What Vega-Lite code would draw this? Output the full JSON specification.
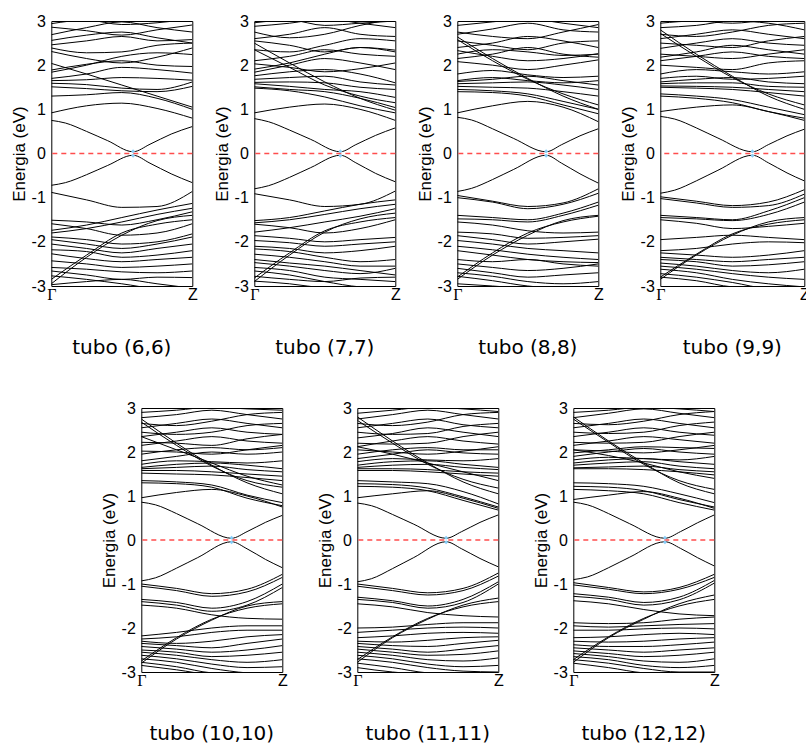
{
  "$schema": "https://vega.github.io/schema/vega-lite/v6.json",
  "background": "white",
  "padding": {"left": 9, "top": 12, "right": 0, "bottom": 0},
  "config": {
    "view": {"stroke": "#000", "strokeWidth": 1},
    "axisX": {"grid": false, "ticks": false, "domain": false, "labelFlush": false, "labelFontSize": 16, "labelColor": "#000", "labelPadding": 0, "labelBaseline": "top", "labelOffset": 0},
    "axisY": {"grid": false, "ticks": false, "domain": false, "labelFlush": false, "labelFont": "Liberation Sans", "labelFontSize": 16, "labelColor": "#000", "labelPadding": 6, "titleFont": "Liberation Sans", "titleFontSize": 17, "titleFontWeight": "normal", "titleColor": "#000", "titlePadding": 3},
    "title": {"orient": "bottom", "frame": "group", "offset": 36, "font": "DejaVu Sans", "fontSize": 20, "fontWeight": "normal", "color": "#000", "baseline": "top", "anchor": "middle"}
  },
  "datasets": {
    "t6": [
      {"b":1,"k":0,"e":0.75},{"b":1,"k":0.1,"e":0.69},{"b":1,"k":0.25,"e":0.5},{"b":1,"k":0.4,"e":0.29},{"b":1,"k":0.58,"e":0.04},{"b":1,"k":0.7,"e":0.21},{"b":1,"k":0.85,"e":0.44},{"b":1,"k":1,"e":0.61},
      {"b":2,"k":0,"e":-0.72},{"b":2,"k":0.1,"e":-0.66},{"b":2,"k":0.25,"e":-0.48},{"b":2,"k":0.4,"e":-0.27},{"b":2,"k":0.58,"e":-0.04},{"b":2,"k":0.7,"e":-0.22},{"b":2,"k":0.85,"e":-0.46},{"b":2,"k":1,"e":-0.66},
      {"b":3,"k":0,"e":0.92},{"b":3,"k":0.25,"e":1.08},{"b":3,"k":0.5,"e":1.14},{"b":3,"k":0.75,"e":1.02},{"b":3,"k":1,"e":0.8},
      {"b":4,"k":0,"e":1.3},{"b":4,"k":0.25,"e":1.33},{"b":4,"k":0.5,"e":1.38},{"b":4,"k":0.75,"e":1.25},{"b":4,"k":1,"e":1.0},
      {"b":5,"k":0,"e":2.04},{"b":5,"k":0.25,"e":1.8},{"b":5,"k":0.5,"e":1.55},{"b":5,"k":0.75,"e":1.3},{"b":5,"k":1,"e":1.05},
      {"b":6,"k":0,"e":1.51},{"b":6,"k":0.25,"e":1.47},{"b":6,"k":0.5,"e":1.42},{"b":6,"k":0.75,"e":1.4},{"b":6,"k":1,"e":1.52},
      {"b":7,"k":0,"e":1.59},{"b":7,"k":0.25,"e":1.56},{"b":7,"k":0.5,"e":1.48},{"b":7,"k":0.75,"e":1.45},{"b":7,"k":1,"e":1.62},
      {"b":8,"k":0,"e":1.65},{"b":8,"k":0.25,"e":1.67},{"b":8,"k":0.5,"e":1.72},{"b":8,"k":0.75,"e":1.7},{"b":8,"k":1,"e":1.66},
      {"b":9,"k":0,"e":1.7},{"b":9,"k":0.25,"e":1.8},{"b":9,"k":0.5,"e":1.95},{"b":9,"k":0.75,"e":1.9},{"b":9,"k":1,"e":1.82},
      {"b":10,"k":0,"e":1.84},{"b":10,"k":0.25,"e":2.0},{"b":10,"k":0.5,"e":2.2},{"b":10,"k":0.75,"e":2.28},{"b":10,"k":1,"e":2.24},
      {"b":11,"k":0,"e":1.89},{"b":11,"k":0.25,"e":2.02},{"b":11,"k":0.5,"e":2.1},{"b":11,"k":0.75,"e":2.0},{"b":11,"k":1,"e":1.97},
      {"b":12,"k":0,"e":2.31},{"b":12,"k":0.25,"e":2.15},{"b":12,"k":0.5,"e":2.05},{"b":12,"k":0.75,"e":2.18},{"b":12,"k":1,"e":2.39},
      {"b":13,"k":0,"e":2.39},{"b":13,"k":0.25,"e":2.28},{"b":13,"k":0.5,"e":2.3},{"b":13,"k":0.75,"e":2.45},{"b":13,"k":1,"e":2.5},
      {"b":14,"k":0,"e":2.46},{"b":14,"k":0.25,"e":2.55},{"b":14,"k":0.5,"e":2.65},{"b":14,"k":0.75,"e":2.55},{"b":14,"k":1,"e":2.58},
      {"b":15,"k":0,"e":2.56},{"b":15,"k":0.25,"e":2.68},{"b":15,"k":0.5,"e":2.75},{"b":15,"k":0.75,"e":2.62},{"b":15,"k":1,"e":2.5},
      {"b":16,"k":0,"e":2.69},{"b":16,"k":0.25,"e":2.85},{"b":16,"k":0.5,"e":2.98},{"b":16,"k":0.75,"e":2.85},{"b":16,"k":1,"e":2.75},
      {"b":17,"k":0,"e":2.86},{"b":17,"k":0.25,"e":2.78},{"b":17,"k":0.5,"e":2.68},{"b":17,"k":0.75,"e":2.8},{"b":17,"k":1,"e":2.91},
      {"b":18,"k":0,"e":2.94},{"b":18,"k":0.25,"e":3.02},{"b":18,"k":0.5,"e":2.92},{"b":18,"k":0.75,"e":2.96},{"b":18,"k":1,"e":3.05},
      {"b":19,"k":0,"e":-0.88},{"b":19,"k":0.25,"e":-1.05},{"b":19,"k":0.5,"e":-1.22},{"b":19,"k":0.75,"e":-1.2},{"b":19,"k":1,"e":-0.86},
      {"b":20,"k":0,"e":-1.74},{"b":20,"k":0.25,"e":-1.62},{"b":20,"k":0.5,"e":-1.45},{"b":20,"k":0.75,"e":-1.28},{"b":20,"k":1,"e":-1.13},
      {"b":21,"k":0,"e":-1.8},{"b":21,"k":0.25,"e":-1.7},{"b":21,"k":0.5,"e":-1.55},{"b":21,"k":0.75,"e":-1.38},{"b":21,"k":1,"e":-1.24},
      {"b":22,"k":0,"e":-1.51},{"b":22,"k":0.25,"e":-1.55},{"b":22,"k":0.5,"e":-1.62},{"b":22,"k":0.75,"e":-1.5},{"b":22,"k":1,"e":-1.32},
      {"b":23,"k":0,"e":-2.95},{"b":23,"k":0.25,"e":-2.35},{"b":23,"k":0.5,"e":-1.85},{"b":23,"k":0.75,"e":-1.52},{"b":23,"k":1,"e":-1.4},
      {"b":24,"k":0,"e":-2.85},{"b":24,"k":0.25,"e":-2.3},{"b":24,"k":0.5,"e":-1.8},{"b":24,"k":0.75,"e":-1.6},{"b":24,"k":1,"e":-1.5},
      {"b":25,"k":0,"e":-1.59},{"b":25,"k":0.25,"e":-1.7},{"b":25,"k":0.5,"e":-1.85},{"b":25,"k":0.75,"e":-1.8},{"b":25,"k":1,"e":-1.59},
      {"b":26,"k":0,"e":-1.89},{"b":26,"k":0.25,"e":-1.95},{"b":26,"k":0.5,"e":-2.05},{"b":26,"k":0.75,"e":-2.0},{"b":26,"k":1,"e":-1.82},
      {"b":27,"k":0,"e":-1.95},{"b":27,"k":0.25,"e":-2.05},{"b":27,"k":0.5,"e":-2.15},{"b":27,"k":0.75,"e":-2.05},{"b":27,"k":1,"e":-1.89},
      {"b":28,"k":0,"e":-2.05},{"b":28,"k":0.25,"e":-2.15},{"b":28,"k":0.5,"e":-2.25},{"b":28,"k":0.75,"e":-2.15},{"b":28,"k":1,"e":-2.05},
      {"b":29,"k":0,"e":-2.18},{"b":29,"k":0.25,"e":-2.22},{"b":29,"k":0.5,"e":-2.35},{"b":29,"k":0.75,"e":-2.3},{"b":29,"k":1,"e":-2.2},
      {"b":30,"k":0,"e":-2.27},{"b":30,"k":0.25,"e":-2.38},{"b":30,"k":0.5,"e":-2.45},{"b":30,"k":0.75,"e":-2.4},{"b":30,"k":1,"e":-2.35},
      {"b":31,"k":0,"e":-2.43},{"b":31,"k":0.25,"e":-2.5},{"b":31,"k":0.5,"e":-2.58},{"b":31,"k":0.75,"e":-2.55},{"b":31,"k":1,"e":-2.5},
      {"b":32,"k":0,"e":-2.58},{"b":32,"k":0.25,"e":-2.62},{"b":32,"k":0.5,"e":-2.68},{"b":32,"k":0.75,"e":-2.7},{"b":32,"k":1,"e":-2.66},
      {"b":33,"k":0,"e":-2.66},{"b":33,"k":0.25,"e":-2.75},{"b":33,"k":0.5,"e":-2.85},{"b":33,"k":0.75,"e":-2.8},{"b":33,"k":1,"e":-2.81},
      {"b":34,"k":0,"e":-2.77},{"b":34,"k":0.25,"e":-2.85},{"b":34,"k":0.5,"e":-2.95},{"b":34,"k":0.75,"e":-3.05},{"b":34,"k":1,"e":-3.05},
      {"b":35,"k":0,"e":-2.97},{"b":35,"k":0.25,"e":-2.9},{"b":35,"k":0.5,"e":-2.85},{"b":35,"k":0.75,"e":-2.95},{"b":35,"k":1,"e":-3.05}
    ],
    "t7": [
      {"b":1,"k":0,"e":0.79},{"b":1,"k":0.1,"e":0.72},{"b":1,"k":0.25,"e":0.53},{"b":1,"k":0.4,"e":0.32},{"b":1,"k":0.61,"e":0.04},{"b":1,"k":0.72,"e":0.2},{"b":1,"k":0.86,"e":0.41},{"b":1,"k":1,"e":0.58},
      {"b":2,"k":0,"e":-0.8},{"b":2,"k":0.1,"e":-0.73},{"b":2,"k":0.25,"e":-0.54},{"b":2,"k":0.4,"e":-0.32},{"b":2,"k":0.61,"e":-0.04},{"b":2,"k":0.72,"e":-0.21},{"b":2,"k":0.86,"e":-0.45},{"b":2,"k":1,"e":-0.64},
      {"b":3,"k":0,"e":0.92},{"b":3,"k":0.25,"e":1.05},{"b":3,"k":0.5,"e":1.12},{"b":3,"k":0.75,"e":1.0},{"b":3,"k":1,"e":0.75},
      {"b":4,"k":0,"e":1.48},{"b":4,"k":0.25,"e":1.42},{"b":4,"k":0.5,"e":1.28},{"b":4,"k":0.75,"e":1.08},{"b":4,"k":1,"e":0.92},
      {"b":5,"k":0,"e":1.51},{"b":5,"k":0.25,"e":1.45},{"b":5,"k":0.5,"e":1.4},{"b":5,"k":0.75,"e":1.25},{"b":5,"k":1,"e":1.04},
      {"b":6,"k":0,"e":2.5},{"b":6,"k":0.25,"e":2.05},{"b":6,"k":0.5,"e":1.62},{"b":6,"k":0.75,"e":1.25},{"b":6,"k":1,"e":0.98},
      {"b":7,"k":0,"e":2.35},{"b":7,"k":0.25,"e":1.95},{"b":7,"k":0.5,"e":1.55},{"b":7,"k":0.75,"e":1.3},{"b":7,"k":1,"e":1.15},
      {"b":8,"k":0,"e":1.58},{"b":8,"k":0.25,"e":1.52},{"b":8,"k":0.5,"e":1.45},{"b":8,"k":0.75,"e":1.4},{"b":8,"k":1,"e":1.27},
      {"b":9,"k":0,"e":1.61},{"b":9,"k":0.25,"e":1.62},{"b":9,"k":0.5,"e":1.6},{"b":9,"k":0.75,"e":1.5},{"b":9,"k":1,"e":1.45},
      {"b":10,"k":0,"e":1.68},{"b":10,"k":0.25,"e":1.72},{"b":10,"k":0.5,"e":1.75},{"b":10,"k":0.75,"e":1.62},{"b":10,"k":1,"e":1.55},
      {"b":11,"k":0,"e":1.76},{"b":11,"k":0.25,"e":1.85},{"b":11,"k":0.5,"e":1.9},{"b":11,"k":0.75,"e":1.8},{"b":11,"k":1,"e":1.6},
      {"b":12,"k":0,"e":1.84},{"b":12,"k":0.25,"e":2.0},{"b":12,"k":0.5,"e":2.15},{"b":12,"k":0.75,"e":2.05},{"b":12,"k":1,"e":1.9},
      {"b":13,"k":0,"e":1.91},{"b":13,"k":0.25,"e":2.05},{"b":13,"k":0.5,"e":2.25},{"b":13,"k":0.75,"e":2.4},{"b":13,"k":1,"e":2.3},
      {"b":14,"k":0,"e":2.03},{"b":14,"k":0.25,"e":1.95},{"b":14,"k":0.5,"e":1.85},{"b":14,"k":0.75,"e":1.92},{"b":14,"k":1,"e":2.05},
      {"b":15,"k":0,"e":2.1},{"b":15,"k":0.25,"e":2.2},{"b":15,"k":0.5,"e":2.35},{"b":15,"k":0.75,"e":2.25},{"b":15,"k":1,"e":2.2},
      {"b":16,"k":0,"e":2.35},{"b":16,"k":0.25,"e":2.3},{"b":16,"k":0.5,"e":2.45},{"b":16,"k":0.75,"e":2.6},{"b":16,"k":1,"e":2.55},
      {"b":17,"k":0,"e":2.55},{"b":17,"k":0.25,"e":2.45},{"b":17,"k":0.5,"e":2.3},{"b":17,"k":0.75,"e":2.4},{"b":17,"k":1,"e":2.34},
      {"b":18,"k":0,"e":2.6},{"b":18,"k":0.25,"e":2.7},{"b":18,"k":0.5,"e":2.85},{"b":18,"k":0.75,"e":2.7},{"b":18,"k":1,"e":2.65},
      {"b":19,"k":0,"e":2.75},{"b":19,"k":0.25,"e":2.62},{"b":19,"k":0.5,"e":2.7},{"b":19,"k":0.75,"e":2.9},{"b":19,"k":1,"e":3.05},
      {"b":20,"k":0,"e":2.88},{"b":20,"k":0.25,"e":2.95},{"b":20,"k":0.5,"e":3.05},{"b":20,"k":0.75,"e":2.95},{"b":20,"k":1,"e":2.85},
      {"b":21,"k":0,"e":2.96},{"b":21,"k":0.25,"e":3.02},{"b":21,"k":0.5,"e":2.9},{"b":21,"k":0.75,"e":2.95},{"b":21,"k":1,"e":3.0},
      {"b":22,"k":0,"e":-0.91},{"b":22,"k":0.25,"e":-1.05},{"b":22,"k":0.5,"e":-1.2},{"b":22,"k":0.75,"e":-1.15},{"b":22,"k":1,"e":-0.85},
      {"b":23,"k":0,"e":-1.52},{"b":23,"k":0.25,"e":-1.45},{"b":23,"k":0.5,"e":-1.3},{"b":23,"k":0.75,"e":-1.15},{"b":23,"k":1,"e":-1.05},
      {"b":24,"k":0,"e":-1.57},{"b":24,"k":0.25,"e":-1.5},{"b":24,"k":0.5,"e":-1.38},{"b":24,"k":0.75,"e":-1.25},{"b":24,"k":1,"e":-1.15},
      {"b":25,"k":0,"e":-1.78},{"b":25,"k":0.25,"e":-1.68},{"b":25,"k":0.5,"e":-1.55},{"b":25,"k":0.75,"e":-1.42},{"b":25,"k":1,"e":-1.25},
      {"b":26,"k":0,"e":-1.6},{"b":26,"k":0.25,"e":-1.68},{"b":26,"k":0.5,"e":-1.8},{"b":26,"k":0.75,"e":-1.7},{"b":26,"k":1,"e":-1.5},
      {"b":27,"k":0,"e":-2.9},{"b":27,"k":0.25,"e":-2.3},{"b":27,"k":0.5,"e":-1.78},{"b":27,"k":0.75,"e":-1.48},{"b":27,"k":1,"e":-1.35},
      {"b":28,"k":0,"e":-2.82},{"b":28,"k":0.25,"e":-2.25},{"b":28,"k":0.5,"e":-1.75},{"b":28,"k":0.75,"e":-1.55},{"b":28,"k":1,"e":-1.45},
      {"b":29,"k":0,"e":-1.86},{"b":29,"k":0.25,"e":-1.92},{"b":29,"k":0.5,"e":-2.0},{"b":29,"k":0.75,"e":-1.95},{"b":29,"k":1,"e":-1.9},
      {"b":30,"k":0,"e":-1.97},{"b":30,"k":0.25,"e":-2.02},{"b":30,"k":0.5,"e":-2.1},{"b":30,"k":0.75,"e":-2.05},{"b":30,"k":1,"e":-2.0},
      {"b":31,"k":0,"e":-2.1},{"b":31,"k":0.25,"e":-2.15},{"b":31,"k":0.5,"e":-2.25},{"b":31,"k":0.75,"e":-2.2},{"b":31,"k":1,"e":-2.1},
      {"b":32,"k":0,"e":-2.16},{"b":32,"k":0.25,"e":-2.22},{"b":32,"k":0.5,"e":-2.35},{"b":32,"k":0.75,"e":-2.45},{"b":32,"k":1,"e":-2.4},
      {"b":33,"k":0,"e":-2.28},{"b":33,"k":0.25,"e":-2.35},{"b":33,"k":0.5,"e":-2.45},{"b":33,"k":0.75,"e":-2.55},{"b":33,"k":1,"e":-2.55},
      {"b":34,"k":0,"e":-2.4},{"b":34,"k":0.25,"e":-2.48},{"b":34,"k":0.5,"e":-2.55},{"b":34,"k":0.75,"e":-2.65},{"b":34,"k":1,"e":-2.75},
      {"b":35,"k":0,"e":-2.47},{"b":35,"k":0.25,"e":-2.55},{"b":35,"k":0.5,"e":-2.65},{"b":35,"k":0.75,"e":-2.72},{"b":35,"k":1,"e":-2.6},
      {"b":36,"k":0,"e":-2.58},{"b":36,"k":0.25,"e":-2.65},{"b":36,"k":0.5,"e":-2.8},{"b":36,"k":0.75,"e":-2.85},{"b":36,"k":1,"e":-2.9},
      {"b":37,"k":0,"e":-2.66},{"b":37,"k":0.25,"e":-2.75},{"b":37,"k":0.5,"e":-2.9},{"b":37,"k":0.75,"e":-3.02},{"b":37,"k":1,"e":-3.05},
      {"b":38,"k":0,"e":-2.78},{"b":38,"k":0.25,"e":-2.85},{"b":38,"k":0.5,"e":-2.9},{"b":38,"k":0.75,"e":-2.82},{"b":38,"k":1,"e":-2.8},
      {"b":39,"k":0,"e":-2.89},{"b":39,"k":0.25,"e":-2.95},{"b":39,"k":0.5,"e":-3.05},{"b":39,"k":0.75,"e":-3.1},{"b":39,"k":1,"e":-3.1}
    ],
    "t8": [
      {"b":1,"k":0,"e":0.82},{"b":1,"k":0.1,"e":0.76},{"b":1,"k":0.25,"e":0.56},{"b":1,"k":0.4,"e":0.34},{"b":1,"k":0.63,"e":0.04},{"b":1,"k":0.74,"e":0.2},{"b":1,"k":0.87,"e":0.4},{"b":1,"k":1,"e":0.56},
      {"b":2,"k":0,"e":-0.86},{"b":2,"k":0.1,"e":-0.79},{"b":2,"k":0.25,"e":-0.59},{"b":2,"k":0.4,"e":-0.36},{"b":2,"k":0.63,"e":-0.04},{"b":2,"k":0.74,"e":-0.22},{"b":2,"k":0.87,"e":-0.46},{"b":2,"k":1,"e":-0.67},
      {"b":3,"k":0,"e":0.92},{"b":3,"k":0.25,"e":1.08},{"b":3,"k":0.5,"e":1.18},{"b":3,"k":0.75,"e":1.05},{"b":3,"k":1,"e":0.72},
      {"b":4,"k":0,"e":1.4},{"b":4,"k":0.25,"e":1.38},{"b":4,"k":0.5,"e":1.3},{"b":4,"k":0.75,"e":1.1},{"b":4,"k":1,"e":0.9},
      {"b":5,"k":0,"e":1.45},{"b":5,"k":0.25,"e":1.42},{"b":5,"k":0.5,"e":1.35},{"b":5,"k":0.75,"e":1.18},{"b":5,"k":1,"e":1.0},
      {"b":6,"k":0,"e":2.64},{"b":6,"k":0.25,"e":2.15},{"b":6,"k":0.5,"e":1.7},{"b":6,"k":0.75,"e":1.3},{"b":6,"k":1,"e":1.0},
      {"b":7,"k":0,"e":2.58},{"b":7,"k":0.25,"e":2.1},{"b":7,"k":0.5,"e":1.68},{"b":7,"k":0.75,"e":1.35},{"b":7,"k":1,"e":1.1},
      {"b":8,"k":0,"e":1.52},{"b":8,"k":0.25,"e":1.5},{"b":8,"k":0.5,"e":1.48},{"b":8,"k":0.75,"e":1.4},{"b":8,"k":1,"e":1.3},
      {"b":9,"k":0,"e":1.58},{"b":9,"k":0.25,"e":1.6},{"b":9,"k":0.5,"e":1.62},{"b":9,"k":0.75,"e":1.55},{"b":9,"k":1,"e":1.45},
      {"b":10,"k":0,"e":1.63},{"b":10,"k":0.25,"e":1.68},{"b":10,"k":0.5,"e":1.75},{"b":10,"k":0.75,"e":1.65},{"b":10,"k":1,"e":1.55},
      {"b":11,"k":0,"e":1.65},{"b":11,"k":0.25,"e":1.72},{"b":11,"k":0.5,"e":1.65},{"b":11,"k":0.75,"e":1.6},{"b":11,"k":1,"e":1.65},
      {"b":12,"k":0,"e":1.8},{"b":12,"k":0.25,"e":1.88},{"b":12,"k":0.5,"e":1.78},{"b":12,"k":0.75,"e":1.72},{"b":12,"k":1,"e":1.75},
      {"b":13,"k":0,"e":2.08},{"b":13,"k":0.25,"e":2.0},{"b":13,"k":0.5,"e":1.9},{"b":13,"k":0.75,"e":2.0},{"b":13,"k":1,"e":2.12},
      {"b":14,"k":0,"e":2.15},{"b":14,"k":0.25,"e":2.25},{"b":14,"k":0.5,"e":2.4},{"b":14,"k":0.75,"e":2.25},{"b":14,"k":1,"e":2.18},
      {"b":15,"k":0,"e":2.25},{"b":15,"k":0.25,"e":2.35},{"b":15,"k":0.5,"e":2.3},{"b":15,"k":0.75,"e":2.22},{"b":15,"k":1,"e":2.25},
      {"b":16,"k":0,"e":2.33},{"b":16,"k":0.25,"e":2.2},{"b":16,"k":0.5,"e":2.1},{"b":16,"k":0.75,"e":2.15},{"b":16,"k":1,"e":2.26},
      {"b":17,"k":0,"e":2.4},{"b":17,"k":0.25,"e":2.5},{"b":17,"k":0.5,"e":2.65},{"b":17,"k":0.75,"e":2.55},{"b":17,"k":1,"e":2.4},
      {"b":18,"k":0,"e":2.55},{"b":18,"k":0.25,"e":2.45},{"b":18,"k":0.5,"e":2.35},{"b":18,"k":0.75,"e":2.5},{"b":18,"k":1,"e":2.55},
      {"b":19,"k":0,"e":2.7},{"b":19,"k":0.25,"e":2.82},{"b":19,"k":0.5,"e":2.95},{"b":19,"k":0.75,"e":2.8},{"b":19,"k":1,"e":2.75},
      {"b":20,"k":0,"e":2.75},{"b":20,"k":0.25,"e":2.65},{"b":20,"k":0.5,"e":2.6},{"b":20,"k":0.75,"e":2.75},{"b":20,"k":1,"e":2.92},
      {"b":21,"k":0,"e":2.9},{"b":21,"k":0.25,"e":2.98},{"b":21,"k":0.5,"e":3.05},{"b":21,"k":0.75,"e":2.95},{"b":21,"k":1,"e":2.85},
      {"b":22,"k":0,"e":-0.95},{"b":22,"k":0.25,"e":-1.08},{"b":22,"k":0.5,"e":-1.2},{"b":22,"k":0.75,"e":-1.12},{"b":22,"k":1,"e":-0.8},
      {"b":23,"k":0,"e":-1.0},{"b":23,"k":0.25,"e":-1.1},{"b":23,"k":0.5,"e":-1.25},{"b":23,"k":0.75,"e":-1.15},{"b":23,"k":1,"e":-0.9},
      {"b":24,"k":0,"e":-1.4},{"b":24,"k":0.25,"e":-1.45},{"b":24,"k":0.5,"e":-1.5},{"b":24,"k":0.75,"e":-1.35},{"b":24,"k":1,"e":-1.1},
      {"b":25,"k":0,"e":-1.48},{"b":25,"k":0.25,"e":-1.5},{"b":25,"k":0.5,"e":-1.55},{"b":25,"k":0.75,"e":-1.4},{"b":25,"k":1,"e":-1.17},
      {"b":26,"k":0,"e":-1.55},{"b":26,"k":0.25,"e":-1.62},{"b":26,"k":0.5,"e":-1.75},{"b":26,"k":0.75,"e":-1.8},{"b":26,"k":1,"e":-1.78},
      {"b":27,"k":0,"e":-2.85},{"b":27,"k":0.25,"e":-2.3},{"b":27,"k":0.5,"e":-1.85},{"b":27,"k":0.75,"e":-1.52},{"b":27,"k":1,"e":-1.4},
      {"b":28,"k":0,"e":-2.8},{"b":28,"k":0.25,"e":-2.25},{"b":28,"k":0.5,"e":-1.8},{"b":28,"k":0.75,"e":-1.55},{"b":28,"k":1,"e":-1.42},
      {"b":29,"k":0,"e":-1.78},{"b":29,"k":0.25,"e":-1.82},{"b":29,"k":0.5,"e":-1.92},{"b":29,"k":0.75,"e":-1.9},{"b":29,"k":1,"e":-1.86},
      {"b":30,"k":0,"e":-1.86},{"b":30,"k":0.25,"e":-1.95},{"b":30,"k":0.5,"e":-2.05},{"b":30,"k":0.75,"e":-2.0},{"b":30,"k":1,"e":-1.94},
      {"b":31,"k":0,"e":-1.97},{"b":31,"k":0.25,"e":-2.05},{"b":31,"k":0.5,"e":-2.15},{"b":31,"k":0.75,"e":-2.2},{"b":31,"k":1,"e":-2.25},
      {"b":32,"k":0,"e":-2.1},{"b":32,"k":0.25,"e":-2.18},{"b":32,"k":0.5,"e":-2.28},{"b":32,"k":0.75,"e":-2.35},{"b":32,"k":1,"e":-2.4},
      {"b":33,"k":0,"e":-2.2},{"b":33,"k":0.25,"e":-2.3},{"b":33,"k":0.5,"e":-2.4},{"b":33,"k":0.75,"e":-2.45},{"b":33,"k":1,"e":-2.47},
      {"b":34,"k":0,"e":-2.4},{"b":34,"k":0.25,"e":-2.45},{"b":34,"k":0.5,"e":-2.4},{"b":34,"k":0.75,"e":-2.5},{"b":34,"k":1,"e":-2.55},
      {"b":35,"k":0,"e":-2.5},{"b":35,"k":0.25,"e":-2.58},{"b":35,"k":0.5,"e":-2.65},{"b":35,"k":0.75,"e":-2.6},{"b":35,"k":1,"e":-2.5},
      {"b":36,"k":0,"e":-2.6},{"b":36,"k":0.25,"e":-2.7},{"b":36,"k":0.5,"e":-2.8},{"b":36,"k":0.75,"e":-2.75},{"b":36,"k":1,"e":-2.7},
      {"b":37,"k":0,"e":-2.7},{"b":37,"k":0.25,"e":-2.78},{"b":37,"k":0.5,"e":-2.9},{"b":37,"k":0.75,"e":-2.95},{"b":37,"k":1,"e":-2.9},
      {"b":38,"k":0,"e":-2.78},{"b":38,"k":0.25,"e":-2.88},{"b":38,"k":0.5,"e":-3.0},{"b":38,"k":0.75,"e":-3.05},{"b":38,"k":1,"e":-3.05},
      {"b":39,"k":0,"e":-2.95},{"b":39,"k":0.25,"e":-3.0},{"b":39,"k":0.5,"e":-3.05},{"b":39,"k":0.75,"e":-3.05},{"b":39,"k":1,"e":-3.05}
    ],
    "t9": [
      {"b":1,"k":0,"e":0.84},{"b":1,"k":0.1,"e":0.78},{"b":1,"k":0.25,"e":0.58},{"b":1,"k":0.4,"e":0.35},{"b":1,"k":0.64,"e":0.04},{"b":1,"k":0.75,"e":0.2},{"b":1,"k":0.88,"e":0.4},{"b":1,"k":1,"e":0.55},
      {"b":2,"k":0,"e":-0.9},{"b":2,"k":0.1,"e":-0.83},{"b":2,"k":0.25,"e":-0.62},{"b":2,"k":0.4,"e":-0.38},{"b":2,"k":0.64,"e":-0.04},{"b":2,"k":0.75,"e":-0.21},{"b":2,"k":0.88,"e":-0.44},{"b":2,"k":1,"e":-0.62},
      {"b":3,"k":0,"e":0.95},{"b":3,"k":0.25,"e":1.05},{"b":3,"k":0.5,"e":1.1},{"b":3,"k":0.75,"e":0.95},{"b":3,"k":1,"e":0.75},
      {"b":4,"k":0,"e":1.3},{"b":4,"k":0.25,"e":1.25},{"b":4,"k":0.5,"e":1.15},{"b":4,"k":0.75,"e":0.95},{"b":4,"k":1,"e":0.8},
      {"b":5,"k":0,"e":1.35},{"b":5,"k":0.25,"e":1.3},{"b":5,"k":0.5,"e":1.22},{"b":5,"k":0.75,"e":1.05},{"b":5,"k":1,"e":0.88},
      {"b":6,"k":0,"e":2.8},{"b":6,"k":0.25,"e":2.25},{"b":6,"k":0.5,"e":1.75},{"b":6,"k":0.75,"e":1.3},{"b":6,"k":1,"e":1.0},
      {"b":7,"k":0,"e":2.72},{"b":7,"k":0.25,"e":2.2},{"b":7,"k":0.5,"e":1.72},{"b":7,"k":0.75,"e":1.35},{"b":7,"k":1,"e":1.1},
      {"b":8,"k":0,"e":1.5},{"b":8,"k":0.25,"e":1.48},{"b":8,"k":0.5,"e":1.45},{"b":8,"k":0.75,"e":1.38},{"b":8,"k":1,"e":1.3},
      {"b":9,"k":0,"e":1.53},{"b":9,"k":0.25,"e":1.52},{"b":9,"k":0.5,"e":1.5},{"b":9,"k":0.75,"e":1.45},{"b":9,"k":1,"e":1.4},
      {"b":10,"k":0,"e":1.58},{"b":10,"k":0.25,"e":1.6},{"b":10,"k":0.5,"e":1.6},{"b":10,"k":0.75,"e":1.52},{"b":10,"k":1,"e":1.5},
      {"b":11,"k":0,"e":1.62},{"b":11,"k":0.25,"e":1.68},{"b":11,"k":0.5,"e":1.72},{"b":11,"k":0.75,"e":1.62},{"b":11,"k":1,"e":1.58},
      {"b":12,"k":0,"e":1.7},{"b":12,"k":0.25,"e":1.75},{"b":12,"k":0.5,"e":1.68},{"b":12,"k":0.75,"e":1.7},{"b":12,"k":1,"e":1.75},
      {"b":13,"k":0,"e":1.8},{"b":13,"k":0.25,"e":1.9},{"b":13,"k":0.5,"e":1.85},{"b":13,"k":0.75,"e":1.8},{"b":13,"k":1,"e":1.85},
      {"b":14,"k":0,"e":2.0},{"b":14,"k":0.25,"e":1.95},{"b":14,"k":0.5,"e":1.9},{"b":14,"k":0.75,"e":2.05},{"b":14,"k":1,"e":2.1},
      {"b":15,"k":0,"e":2.1},{"b":15,"k":0.25,"e":2.2},{"b":15,"k":0.5,"e":2.3},{"b":15,"k":0.75,"e":2.2},{"b":15,"k":1,"e":2.15},
      {"b":16,"k":0,"e":2.18},{"b":16,"k":0.25,"e":2.3},{"b":16,"k":0.5,"e":2.45},{"b":16,"k":0.75,"e":2.35},{"b":16,"k":1,"e":2.25},
      {"b":17,"k":0,"e":2.25},{"b":17,"k":0.25,"e":2.2},{"b":17,"k":0.5,"e":2.15},{"b":17,"k":0.75,"e":2.25},{"b":17,"k":1,"e":2.35},
      {"b":18,"k":0,"e":2.38},{"b":18,"k":0.25,"e":2.5},{"b":18,"k":0.5,"e":2.6},{"b":18,"k":0.75,"e":2.5},{"b":18,"k":1,"e":2.45},
      {"b":19,"k":0,"e":2.5},{"b":19,"k":0.25,"e":2.45},{"b":19,"k":0.5,"e":2.4},{"b":19,"k":0.75,"e":2.55},{"b":19,"k":1,"e":2.65},
      {"b":20,"k":0,"e":2.6},{"b":20,"k":0.25,"e":2.7},{"b":20,"k":0.5,"e":2.8},{"b":20,"k":0.75,"e":2.7},{"b":20,"k":1,"e":2.6},
      {"b":21,"k":0,"e":2.7},{"b":21,"k":0.25,"e":2.65},{"b":21,"k":0.5,"e":2.75},{"b":21,"k":0.75,"e":2.9},{"b":21,"k":1,"e":2.95},
      {"b":22,"k":0,"e":2.85},{"b":22,"k":0.25,"e":2.9},{"b":22,"k":0.5,"e":3.0},{"b":22,"k":0.75,"e":2.95},{"b":22,"k":1,"e":2.8},
      {"b":23,"k":0,"e":2.95},{"b":23,"k":0.25,"e":3.0},{"b":23,"k":0.5,"e":2.95},{"b":23,"k":0.75,"e":3.02},{"b":23,"k":1,"e":3.05},
      {"b":24,"k":0,"e":-0.98},{"b":24,"k":0.25,"e":-1.08},{"b":24,"k":0.5,"e":-1.18},{"b":24,"k":0.75,"e":-1.1},{"b":24,"k":1,"e":-0.82},
      {"b":25,"k":0,"e":-1.02},{"b":25,"k":0.25,"e":-1.12},{"b":25,"k":0.5,"e":-1.22},{"b":25,"k":0.75,"e":-1.18},{"b":25,"k":1,"e":-0.92},
      {"b":26,"k":0,"e":-1.4},{"b":26,"k":0.25,"e":-1.45},{"b":26,"k":0.5,"e":-1.5},{"b":26,"k":0.75,"e":-1.3},{"b":26,"k":1,"e":-1.0},
      {"b":27,"k":0,"e":-1.45},{"b":27,"k":0.25,"e":-1.48},{"b":27,"k":0.5,"e":-1.52},{"b":27,"k":0.75,"e":-1.38},{"b":27,"k":1,"e":-1.1},
      {"b":28,"k":0,"e":-1.5},{"b":28,"k":0.25,"e":-1.58},{"b":28,"k":0.5,"e":-1.7},{"b":28,"k":0.75,"e":-1.65},{"b":28,"k":1,"e":-1.58},
      {"b":29,"k":0,"e":-2.85},{"b":29,"k":0.25,"e":-2.3},{"b":29,"k":0.5,"e":-1.85},{"b":29,"k":0.75,"e":-1.55},{"b":29,"k":1,"e":-1.45},
      {"b":30,"k":0,"e":-2.8},{"b":30,"k":0.25,"e":-2.28},{"b":30,"k":0.5,"e":-1.82},{"b":30,"k":0.75,"e":-1.6},{"b":30,"k":1,"e":-1.5},
      {"b":31,"k":0,"e":-1.95},{"b":31,"k":0.25,"e":-1.9},{"b":31,"k":0.5,"e":-1.85},{"b":31,"k":0.75,"e":-1.9},{"b":31,"k":1,"e":-1.95},
      {"b":32,"k":0,"e":-2.2},{"b":32,"k":0.25,"e":-2.15},{"b":32,"k":0.5,"e":-2.05},{"b":32,"k":0.75,"e":-2.0},{"b":32,"k":1,"e":-2.02},
      {"b":33,"k":0,"e":-2.25},{"b":33,"k":0.25,"e":-2.3},{"b":33,"k":0.5,"e":-2.35},{"b":33,"k":0.75,"e":-2.3},{"b":33,"k":1,"e":-2.2},
      {"b":34,"k":0,"e":-2.35},{"b":34,"k":0.25,"e":-2.4},{"b":34,"k":0.5,"e":-2.45},{"b":34,"k":0.75,"e":-2.4},{"b":34,"k":1,"e":-2.35},
      {"b":35,"k":0,"e":-2.4},{"b":35,"k":0.25,"e":-2.45},{"b":35,"k":0.5,"e":-2.55},{"b":35,"k":0.75,"e":-2.52},{"b":35,"k":1,"e":-2.45},
      {"b":36,"k":0,"e":-2.48},{"b":36,"k":0.25,"e":-2.55},{"b":36,"k":0.5,"e":-2.65},{"b":36,"k":0.75,"e":-2.7},{"b":36,"k":1,"e":-2.62},
      {"b":37,"k":0,"e":-2.55},{"b":37,"k":0.25,"e":-2.62},{"b":37,"k":0.5,"e":-2.72},{"b":37,"k":0.75,"e":-2.8},{"b":37,"k":1,"e":-2.85},
      {"b":38,"k":0,"e":-2.62},{"b":38,"k":0.25,"e":-2.7},{"b":38,"k":0.5,"e":-2.85},{"b":38,"k":0.75,"e":-2.95},{"b":38,"k":1,"e":-3.02},
      {"b":39,"k":0,"e":-2.72},{"b":39,"k":0.25,"e":-2.8},{"b":39,"k":0.5,"e":-2.92},{"b":39,"k":0.75,"e":-3.05},{"b":39,"k":1,"e":-3.05},
      {"b":40,"k":0,"e":-2.8},{"b":40,"k":0.25,"e":-2.88},{"b":40,"k":0.5,"e":-3.02},{"b":40,"k":0.75,"e":-3.05},{"b":40,"k":1,"e":-3.05}
    ],
    "t10": [
      {"b":1,"k":0,"e":0.86},{"b":1,"k":0.1,"e":0.8},{"b":1,"k":0.25,"e":0.6},{"b":1,"k":0.4,"e":0.37},{"b":1,"k":0.64,"e":0.04},{"b":1,"k":0.75,"e":0.19},{"b":1,"k":0.88,"e":0.4},{"b":1,"k":1,"e":0.56},
      {"b":2,"k":0,"e":-0.93},{"b":2,"k":0.1,"e":-0.86},{"b":2,"k":0.25,"e":-0.64},{"b":2,"k":0.4,"e":-0.4},{"b":2,"k":0.64,"e":-0.04},{"b":2,"k":0.75,"e":-0.2},{"b":2,"k":0.88,"e":-0.44},{"b":2,"k":1,"e":-0.63},
      {"b":3,"k":0,"e":0.96},{"b":3,"k":0.25,"e":1.08},{"b":3,"k":0.5,"e":1.15},{"b":3,"k":0.75,"e":1.0},{"b":3,"k":1,"e":0.75},
      {"b":4,"k":0,"e":1.3},{"b":4,"k":0.25,"e":1.28},{"b":4,"k":0.5,"e":1.2},{"b":4,"k":0.75,"e":0.95},{"b":4,"k":1,"e":0.78},
      {"b":5,"k":0,"e":1.35},{"b":5,"k":0.25,"e":1.32},{"b":5,"k":0.5,"e":1.25},{"b":5,"k":0.75,"e":1.02},{"b":5,"k":1,"e":0.85},
      {"b":6,"k":0,"e":2.75},{"b":6,"k":0.25,"e":2.2},{"b":6,"k":0.5,"e":1.7},{"b":6,"k":0.75,"e":1.3},{"b":6,"k":1,"e":1.05},
      {"b":7,"k":0,"e":2.68},{"b":7,"k":0.25,"e":2.15},{"b":7,"k":0.5,"e":1.68},{"b":7,"k":0.75,"e":1.35},{"b":7,"k":1,"e":1.2},
      {"b":8,"k":0,"e":2.35},{"b":8,"k":0.25,"e":2.05},{"b":8,"k":0.5,"e":1.75},{"b":8,"k":0.75,"e":1.45},{"b":8,"k":1,"e":1.25},
      {"b":9,"k":0,"e":1.52},{"b":9,"k":0.25,"e":1.5},{"b":9,"k":0.5,"e":1.48},{"b":9,"k":0.75,"e":1.42},{"b":9,"k":1,"e":1.35},
      {"b":10,"k":0,"e":1.58},{"b":10,"k":0.25,"e":1.58},{"b":10,"k":0.5,"e":1.55},{"b":10,"k":0.75,"e":1.5},{"b":10,"k":1,"e":1.45},
      {"b":11,"k":0,"e":1.62},{"b":11,"k":0.25,"e":1.65},{"b":11,"k":0.5,"e":1.68},{"b":11,"k":0.75,"e":1.6},{"b":11,"k":1,"e":1.55},
      {"b":12,"k":0,"e":1.65},{"b":12,"k":0.25,"e":1.72},{"b":12,"k":0.5,"e":1.75},{"b":12,"k":0.75,"e":1.7},{"b":12,"k":1,"e":1.62},
      {"b":13,"k":0,"e":1.72},{"b":13,"k":0.25,"e":1.8},{"b":13,"k":0.5,"e":1.78},{"b":13,"k":0.75,"e":1.75},{"b":13,"k":1,"e":1.8},
      {"b":14,"k":0,"e":1.8},{"b":14,"k":0.25,"e":1.9},{"b":14,"k":0.5,"e":2.0},{"b":14,"k":0.75,"e":1.95},{"b":14,"k":1,"e":2.0},
      {"b":15,"k":0,"e":1.95},{"b":15,"k":0.25,"e":2.05},{"b":15,"k":0.5,"e":2.1},{"b":15,"k":0.75,"e":2.05},{"b":15,"k":1,"e":2.1},
      {"b":16,"k":0,"e":2.02},{"b":16,"k":0.25,"e":2.0},{"b":16,"k":0.5,"e":1.95},{"b":16,"k":0.75,"e":2.05},{"b":16,"k":1,"e":2.15},
      {"b":17,"k":0,"e":2.15},{"b":17,"k":0.25,"e":2.25},{"b":17,"k":0.5,"e":2.35},{"b":17,"k":0.75,"e":2.25},{"b":17,"k":1,"e":2.2},
      {"b":18,"k":0,"e":2.22},{"b":18,"k":0.25,"e":2.2},{"b":18,"k":0.5,"e":2.15},{"b":18,"k":0.75,"e":2.3},{"b":18,"k":1,"e":2.4},
      {"b":19,"k":0,"e":2.35},{"b":19,"k":0.25,"e":2.45},{"b":19,"k":0.5,"e":2.55},{"b":19,"k":0.75,"e":2.45},{"b":19,"k":1,"e":2.4},
      {"b":20,"k":0,"e":2.45},{"b":20,"k":0.25,"e":2.4},{"b":20,"k":0.5,"e":2.45},{"b":20,"k":0.75,"e":2.6},{"b":20,"k":1,"e":2.65},
      {"b":21,"k":0,"e":2.55},{"b":21,"k":0.25,"e":2.65},{"b":21,"k":0.5,"e":2.75},{"b":21,"k":0.75,"e":2.65},{"b":21,"k":1,"e":2.55},
      {"b":22,"k":0,"e":2.65},{"b":22,"k":0.25,"e":2.6},{"b":22,"k":0.5,"e":2.7},{"b":22,"k":0.75,"e":2.85},{"b":22,"k":1,"e":2.9},
      {"b":23,"k":0,"e":2.78},{"b":23,"k":0.25,"e":2.85},{"b":23,"k":0.5,"e":2.95},{"b":23,"k":0.75,"e":2.85},{"b":23,"k":1,"e":2.75},
      {"b":24,"k":0,"e":2.9},{"b":24,"k":0.25,"e":2.95},{"b":24,"k":0.5,"e":3.02},{"b":24,"k":0.75,"e":2.98},{"b":24,"k":1,"e":2.95},
      {"b":25,"k":0,"e":-1.0},{"b":25,"k":0.25,"e":-1.1},{"b":25,"k":0.5,"e":-1.22},{"b":25,"k":0.75,"e":-1.12},{"b":25,"k":1,"e":-0.78},
      {"b":26,"k":0,"e":-1.05},{"b":26,"k":0.25,"e":-1.15},{"b":26,"k":0.5,"e":-1.28},{"b":26,"k":0.75,"e":-1.18},{"b":26,"k":1,"e":-0.85},
      {"b":27,"k":0,"e":-1.35},{"b":27,"k":0.25,"e":-1.42},{"b":27,"k":0.5,"e":-1.55},{"b":27,"k":0.75,"e":-1.4},{"b":27,"k":1,"e":-1.0},
      {"b":28,"k":0,"e":-1.4},{"b":28,"k":0.25,"e":-1.48},{"b":28,"k":0.5,"e":-1.62},{"b":28,"k":0.75,"e":-1.48},{"b":28,"k":1,"e":-1.08},
      {"b":29,"k":0,"e":-1.48},{"b":29,"k":0.25,"e":-1.55},{"b":29,"k":0.5,"e":-1.7},{"b":29,"k":0.75,"e":-1.78},{"b":29,"k":1,"e":-1.8},
      {"b":30,"k":0,"e":-2.8},{"b":30,"k":0.25,"e":-2.25},{"b":30,"k":0.5,"e":-1.82},{"b":30,"k":0.75,"e":-1.5},{"b":30,"k":1,"e":-1.4},
      {"b":31,"k":0,"e":-2.75},{"b":31,"k":0.25,"e":-2.22},{"b":31,"k":0.5,"e":-1.8},{"b":31,"k":0.75,"e":-1.55},{"b":31,"k":1,"e":-1.45},
      {"b":32,"k":0,"e":-2.18},{"b":32,"k":0.25,"e":-2.1},{"b":32,"k":0.5,"e":-2.0},{"b":32,"k":0.75,"e":-1.95},{"b":32,"k":1,"e":-1.95},
      {"b":33,"k":0,"e":-2.25},{"b":33,"k":0.25,"e":-2.2},{"b":33,"k":0.5,"e":-2.1},{"b":33,"k":0.75,"e":-2.05},{"b":33,"k":1,"e":-2.05},
      {"b":34,"k":0,"e":-2.3},{"b":34,"k":0.25,"e":-2.35},{"b":34,"k":0.5,"e":-2.3},{"b":34,"k":0.75,"e":-2.2},{"b":34,"k":1,"e":-2.15},
      {"b":35,"k":0,"e":-2.35},{"b":35,"k":0.25,"e":-2.4},{"b":35,"k":0.5,"e":-2.45},{"b":35,"k":0.75,"e":-2.35},{"b":35,"k":1,"e":-2.25},
      {"b":36,"k":0,"e":-2.42},{"b":36,"k":0.25,"e":-2.48},{"b":36,"k":0.5,"e":-2.55},{"b":36,"k":0.75,"e":-2.5},{"b":36,"k":1,"e":-2.4},
      {"b":37,"k":0,"e":-2.5},{"b":37,"k":0.25,"e":-2.55},{"b":37,"k":0.5,"e":-2.65},{"b":37,"k":0.75,"e":-2.62},{"b":37,"k":1,"e":-2.55},
      {"b":38,"k":0,"e":-2.55},{"b":38,"k":0.25,"e":-2.62},{"b":38,"k":0.5,"e":-2.72},{"b":38,"k":0.75,"e":-2.78},{"b":38,"k":1,"e":-2.72},
      {"b":39,"k":0,"e":-2.62},{"b":39,"k":0.25,"e":-2.7},{"b":39,"k":0.5,"e":-2.82},{"b":39,"k":0.75,"e":-2.9},{"b":39,"k":1,"e":-2.88},
      {"b":40,"k":0,"e":-2.7},{"b":40,"k":0.25,"e":-2.78},{"b":40,"k":0.5,"e":-2.92},{"b":40,"k":0.75,"e":-3.02},{"b":40,"k":1,"e":-3.05},
      {"b":41,"k":0,"e":-2.78},{"b":41,"k":0.25,"e":-2.88},{"b":41,"k":0.5,"e":-3.02},{"b":41,"k":0.75,"e":-3.05},{"b":41,"k":1,"e":-3.05},
      {"b":42,"k":0,"e":-2.85},{"b":42,"k":0.25,"e":-2.95},{"b":42,"k":0.5,"e":-3.05},{"b":42,"k":0.75,"e":-3.05},{"b":42,"k":1,"e":-3.05}
    ],
    "t11": [
      {"b":1,"k":0,"e":0.84},{"b":1,"k":0.1,"e":0.78},{"b":1,"k":0.25,"e":0.58},{"b":1,"k":0.4,"e":0.36},{"b":1,"k":0.63,"e":0.04},{"b":1,"k":0.74,"e":0.19},{"b":1,"k":0.87,"e":0.4},{"b":1,"k":1,"e":0.57},
      {"b":2,"k":0,"e":-0.95},{"b":2,"k":0.1,"e":-0.88},{"b":2,"k":0.25,"e":-0.65},{"b":2,"k":0.4,"e":-0.4},{"b":2,"k":0.63,"e":-0.04},{"b":2,"k":0.74,"e":-0.2},{"b":2,"k":0.87,"e":-0.42},{"b":2,"k":1,"e":-0.61},
      {"b":3,"k":0,"e":0.96},{"b":3,"k":0.25,"e":1.05},{"b":3,"k":0.5,"e":1.12},{"b":3,"k":0.75,"e":0.95},{"b":3,"k":1,"e":0.72},
      {"b":4,"k":0,"e":1.22},{"b":4,"k":0.25,"e":1.2},{"b":4,"k":0.5,"e":1.12},{"b":4,"k":0.75,"e":0.9},{"b":4,"k":1,"e":0.68},
      {"b":5,"k":0,"e":1.28},{"b":5,"k":0.25,"e":1.26},{"b":5,"k":0.5,"e":1.18},{"b":5,"k":0.75,"e":0.98},{"b":5,"k":1,"e":0.75},
      {"b":6,"k":0,"e":1.35},{"b":6,"k":0.25,"e":1.32},{"b":6,"k":0.5,"e":1.28},{"b":6,"k":0.75,"e":1.1},{"b":6,"k":1,"e":0.82},
      {"b":7,"k":0,"e":2.8},{"b":7,"k":0.25,"e":2.25},{"b":7,"k":0.5,"e":1.75},{"b":7,"k":0.75,"e":1.32},{"b":7,"k":1,"e":1.05},
      {"b":8,"k":0,"e":2.72},{"b":8,"k":0.25,"e":2.2},{"b":8,"k":0.5,"e":1.72},{"b":8,"k":0.75,"e":1.38},{"b":8,"k":1,"e":1.18},
      {"b":9,"k":0,"e":2.12},{"b":9,"k":0.25,"e":1.95},{"b":9,"k":0.5,"e":1.75},{"b":9,"k":0.75,"e":1.55},{"b":9,"k":1,"e":1.35},
      {"b":10,"k":0,"e":1.58},{"b":10,"k":0.25,"e":1.58},{"b":10,"k":0.5,"e":1.55},{"b":10,"k":0.75,"e":1.5},{"b":10,"k":1,"e":1.45},
      {"b":11,"k":0,"e":1.62},{"b":11,"k":0.25,"e":1.62},{"b":11,"k":0.5,"e":1.6},{"b":11,"k":0.75,"e":1.55},{"b":11,"k":1,"e":1.52},
      {"b":12,"k":0,"e":1.65},{"b":12,"k":0.25,"e":1.7},{"b":12,"k":0.5,"e":1.72},{"b":12,"k":0.75,"e":1.65},{"b":12,"k":1,"e":1.6},
      {"b":13,"k":0,"e":1.7},{"b":13,"k":0.25,"e":1.78},{"b":13,"k":0.5,"e":1.8},{"b":13,"k":0.75,"e":1.72},{"b":13,"k":1,"e":1.65},
      {"b":14,"k":0,"e":1.78},{"b":14,"k":0.25,"e":1.85},{"b":14,"k":0.5,"e":1.82},{"b":14,"k":0.75,"e":1.8},{"b":14,"k":1,"e":1.85},
      {"b":15,"k":0,"e":1.85},{"b":15,"k":0.25,"e":1.95},{"b":15,"k":0.5,"e":2.05},{"b":15,"k":0.75,"e":1.98},{"b":15,"k":1,"e":1.95},
      {"b":16,"k":0,"e":1.95},{"b":16,"k":0.25,"e":2.05},{"b":16,"k":0.5,"e":2.1},{"b":16,"k":0.75,"e":2.05},{"b":16,"k":1,"e":2.05},
      {"b":17,"k":0,"e":2.05},{"b":17,"k":0.25,"e":2.0},{"b":17,"k":0.5,"e":1.95},{"b":17,"k":0.75,"e":2.02},{"b":17,"k":1,"e":2.12},
      {"b":18,"k":0,"e":2.12},{"b":18,"k":0.25,"e":2.25},{"b":18,"k":0.5,"e":2.35},{"b":18,"k":0.75,"e":2.25},{"b":18,"k":1,"e":2.18},
      {"b":19,"k":0,"e":2.2},{"b":19,"k":0.25,"e":2.18},{"b":19,"k":0.5,"e":2.2},{"b":19,"k":0.75,"e":2.35},{"b":19,"k":1,"e":2.45},
      {"b":20,"k":0,"e":2.32},{"b":20,"k":0.25,"e":2.42},{"b":20,"k":0.5,"e":2.55},{"b":20,"k":0.75,"e":2.45},{"b":20,"k":1,"e":2.35},
      {"b":21,"k":0,"e":2.45},{"b":21,"k":0.25,"e":2.4},{"b":21,"k":0.5,"e":2.42},{"b":21,"k":0.75,"e":2.58},{"b":21,"k":1,"e":2.65},
      {"b":22,"k":0,"e":2.55},{"b":22,"k":0.25,"e":2.65},{"b":22,"k":0.5,"e":2.75},{"b":22,"k":0.75,"e":2.62},{"b":22,"k":1,"e":2.55},
      {"b":23,"k":0,"e":2.65},{"b":23,"k":0.25,"e":2.6},{"b":23,"k":0.5,"e":2.68},{"b":23,"k":0.75,"e":2.85},{"b":23,"k":1,"e":2.9},
      {"b":24,"k":0,"e":2.75},{"b":24,"k":0.25,"e":2.85},{"b":24,"k":0.5,"e":2.95},{"b":24,"k":0.75,"e":2.85},{"b":24,"k":1,"e":2.75},
      {"b":25,"k":0,"e":2.88},{"b":25,"k":0.25,"e":2.95},{"b":25,"k":0.5,"e":3.02},{"b":25,"k":0.75,"e":2.98},{"b":25,"k":1,"e":2.92},
      {"b":26,"k":0,"e":-1.0},{"b":26,"k":0.25,"e":-1.1},{"b":26,"k":0.5,"e":-1.2},{"b":26,"k":0.75,"e":-1.1},{"b":26,"k":1,"e":-0.75},
      {"b":27,"k":0,"e":-1.05},{"b":27,"k":0.25,"e":-1.15},{"b":27,"k":0.5,"e":-1.25},{"b":27,"k":0.75,"e":-1.15},{"b":27,"k":1,"e":-0.82},
      {"b":28,"k":0,"e":-1.3},{"b":28,"k":0.25,"e":-1.38},{"b":28,"k":0.5,"e":-1.5},{"b":28,"k":0.75,"e":-1.35},{"b":28,"k":1,"e":-0.95},
      {"b":29,"k":0,"e":-1.35},{"b":29,"k":0.25,"e":-1.42},{"b":29,"k":0.5,"e":-1.55},{"b":29,"k":0.75,"e":-1.42},{"b":29,"k":1,"e":-1.0},
      {"b":30,"k":0,"e":-1.45},{"b":30,"k":0.25,"e":-1.52},{"b":30,"k":0.5,"e":-1.65},{"b":30,"k":0.75,"e":-1.72},{"b":30,"k":1,"e":-1.75},
      {"b":31,"k":0,"e":-2.78},{"b":31,"k":0.25,"e":-2.22},{"b":31,"k":0.5,"e":-1.8},{"b":31,"k":0.75,"e":-1.48},{"b":31,"k":1,"e":-1.32},
      {"b":32,"k":0,"e":-2.72},{"b":32,"k":0.25,"e":-2.2},{"b":32,"k":0.5,"e":-1.78},{"b":32,"k":0.75,"e":-1.52},{"b":32,"k":1,"e":-1.4},
      {"b":33,"k":0,"e":-2.0},{"b":33,"k":0.25,"e":-1.98},{"b":33,"k":0.5,"e":-1.92},{"b":33,"k":0.75,"e":-1.88},{"b":33,"k":1,"e":-1.88},
      {"b":34,"k":0,"e":-2.1},{"b":34,"k":0.25,"e":-2.05},{"b":34,"k":0.5,"e":-2.0},{"b":34,"k":0.75,"e":-1.98},{"b":34,"k":1,"e":-2.0},
      {"b":35,"k":0,"e":-2.22},{"b":35,"k":0.25,"e":-2.18},{"b":35,"k":0.5,"e":-2.12},{"b":35,"k":0.75,"e":-2.1},{"b":35,"k":1,"e":-2.12},
      {"b":36,"k":0,"e":-2.3},{"b":36,"k":0.25,"e":-2.32},{"b":36,"k":0.5,"e":-2.28},{"b":36,"k":0.75,"e":-2.22},{"b":36,"k":1,"e":-2.2},
      {"b":37,"k":0,"e":-2.35},{"b":37,"k":0.25,"e":-2.4},{"b":37,"k":0.5,"e":-2.42},{"b":37,"k":0.75,"e":-2.35},{"b":37,"k":1,"e":-2.28},
      {"b":38,"k":0,"e":-2.42},{"b":38,"k":0.25,"e":-2.48},{"b":38,"k":0.5,"e":-2.55},{"b":38,"k":0.75,"e":-2.48},{"b":38,"k":1,"e":-2.4},
      {"b":39,"k":0,"e":-2.48},{"b":39,"k":0.25,"e":-2.55},{"b":39,"k":0.5,"e":-2.62},{"b":39,"k":0.75,"e":-2.6},{"b":39,"k":1,"e":-2.52},
      {"b":40,"k":0,"e":-2.55},{"b":40,"k":0.25,"e":-2.62},{"b":40,"k":0.5,"e":-2.72},{"b":40,"k":0.75,"e":-2.75},{"b":40,"k":1,"e":-2.68},
      {"b":41,"k":0,"e":-2.62},{"b":41,"k":0.25,"e":-2.7},{"b":41,"k":0.5,"e":-2.82},{"b":41,"k":0.75,"e":-2.88},{"b":41,"k":1,"e":-2.85},
      {"b":42,"k":0,"e":-2.7},{"b":42,"k":0.25,"e":-2.78},{"b":42,"k":0.5,"e":-2.9},{"b":42,"k":0.75,"e":-2.98},{"b":42,"k":1,"e":-3.0},
      {"b":43,"k":0,"e":-2.8},{"b":43,"k":0.25,"e":-2.9},{"b":43,"k":0.5,"e":-3.02},{"b":43,"k":0.75,"e":-3.05},{"b":43,"k":1,"e":-3.05},
      {"b":44,"k":0,"e":-2.9},{"b":44,"k":0.25,"e":-3.0},{"b":44,"k":0.5,"e":-3.05},{"b":44,"k":0.75,"e":-3.05},{"b":44,"k":1,"e":-3.05}
    ],
    "t12": [
      {"b":1,"k":0,"e":0.86},{"b":1,"k":0.1,"e":0.8},{"b":1,"k":0.25,"e":0.6},{"b":1,"k":0.4,"e":0.37},{"b":1,"k":0.65,"e":0.04},{"b":1,"k":0.76,"e":0.19},{"b":1,"k":0.88,"e":0.39},{"b":1,"k":1,"e":0.57},
      {"b":2,"k":0,"e":-0.9},{"b":2,"k":0.1,"e":-0.84},{"b":2,"k":0.25,"e":-0.63},{"b":2,"k":0.4,"e":-0.39},{"b":2,"k":0.65,"e":-0.04},{"b":2,"k":0.76,"e":-0.19},{"b":2,"k":0.88,"e":-0.4},{"b":2,"k":1,"e":-0.59},
      {"b":3,"k":0,"e":0.92},{"b":3,"k":0.25,"e":1.02},{"b":3,"k":0.5,"e":1.1},{"b":3,"k":0.75,"e":0.95},{"b":3,"k":1,"e":0.72},
      {"b":4,"k":0,"e":1.15},{"b":4,"k":0.25,"e":1.12},{"b":4,"k":0.5,"e":1.05},{"b":4,"k":0.75,"e":0.85},{"b":4,"k":1,"e":0.68},
      {"b":5,"k":0,"e":1.22},{"b":5,"k":0.25,"e":1.2},{"b":5,"k":0.5,"e":1.12},{"b":5,"k":0.75,"e":0.92},{"b":5,"k":1,"e":0.75},
      {"b":6,"k":0,"e":1.3},{"b":6,"k":0.25,"e":1.28},{"b":6,"k":0.5,"e":1.22},{"b":6,"k":0.75,"e":1.05},{"b":6,"k":1,"e":0.85},
      {"b":7,"k":0,"e":2.8},{"b":7,"k":0.25,"e":2.25},{"b":7,"k":0.5,"e":1.75},{"b":7,"k":0.75,"e":1.3},{"b":7,"k":1,"e":1.05},
      {"b":8,"k":0,"e":2.75},{"b":8,"k":0.25,"e":2.22},{"b":8,"k":0.5,"e":1.72},{"b":8,"k":0.75,"e":1.35},{"b":8,"k":1,"e":1.15},
      {"b":9,"k":0,"e":2.05},{"b":9,"k":0.25,"e":1.92},{"b":9,"k":0.5,"e":1.75},{"b":9,"k":0.75,"e":1.55},{"b":9,"k":1,"e":1.4},
      {"b":10,"k":0,"e":1.62},{"b":10,"k":0.25,"e":1.62},{"b":10,"k":0.5,"e":1.6},{"b":10,"k":0.75,"e":1.55},{"b":10,"k":1,"e":1.48},
      {"b":11,"k":0,"e":1.64},{"b":11,"k":0.25,"e":1.66},{"b":11,"k":0.5,"e":1.68},{"b":11,"k":0.75,"e":1.6},{"b":11,"k":1,"e":1.55},
      {"b":12,"k":0,"e":1.7},{"b":12,"k":0.25,"e":1.75},{"b":12,"k":0.5,"e":1.78},{"b":12,"k":0.75,"e":1.68},{"b":12,"k":1,"e":1.62},
      {"b":13,"k":0,"e":1.75},{"b":13,"k":0.25,"e":1.82},{"b":13,"k":0.5,"e":1.85},{"b":13,"k":0.75,"e":1.78},{"b":13,"k":1,"e":1.72},
      {"b":14,"k":0,"e":1.82},{"b":14,"k":0.25,"e":1.88},{"b":14,"k":0.5,"e":1.85},{"b":14,"k":0.75,"e":1.82},{"b":14,"k":1,"e":1.9},
      {"b":15,"k":0,"e":1.9},{"b":15,"k":0.25,"e":2.0},{"b":15,"k":0.5,"e":2.08},{"b":15,"k":0.75,"e":2.0},{"b":15,"k":1,"e":1.95},
      {"b":16,"k":0,"e":1.98},{"b":16,"k":0.25,"e":2.05},{"b":16,"k":0.5,"e":2.12},{"b":16,"k":0.75,"e":2.1},{"b":16,"k":1,"e":2.08},
      {"b":17,"k":0,"e":2.05},{"b":17,"k":0.25,"e":2.02},{"b":17,"k":0.5,"e":1.98},{"b":17,"k":0.75,"e":2.05},{"b":17,"k":1,"e":2.15},
      {"b":18,"k":0,"e":2.15},{"b":18,"k":0.25,"e":2.25},{"b":18,"k":0.5,"e":2.35},{"b":18,"k":0.75,"e":2.28},{"b":18,"k":1,"e":2.2},
      {"b":19,"k":0,"e":2.22},{"b":19,"k":0.25,"e":2.2},{"b":19,"k":0.5,"e":2.22},{"b":19,"k":0.75,"e":2.35},{"b":19,"k":1,"e":2.45},
      {"b":20,"k":0,"e":2.35},{"b":20,"k":0.25,"e":2.45},{"b":20,"k":0.5,"e":2.55},{"b":20,"k":0.75,"e":2.45},{"b":20,"k":1,"e":2.38},
      {"b":21,"k":0,"e":2.45},{"b":21,"k":0.25,"e":2.42},{"b":21,"k":0.5,"e":2.45},{"b":21,"k":0.75,"e":2.6},{"b":21,"k":1,"e":2.68},
      {"b":22,"k":0,"e":2.55},{"b":22,"k":0.25,"e":2.65},{"b":22,"k":0.5,"e":2.75},{"b":22,"k":0.75,"e":2.65},{"b":22,"k":1,"e":2.55},
      {"b":23,"k":0,"e":2.65},{"b":23,"k":0.25,"e":2.62},{"b":23,"k":0.5,"e":2.7},{"b":23,"k":0.75,"e":2.85},{"b":23,"k":1,"e":2.92},
      {"b":24,"k":0,"e":2.78},{"b":24,"k":0.25,"e":2.88},{"b":24,"k":0.5,"e":2.98},{"b":24,"k":0.75,"e":2.88},{"b":24,"k":1,"e":2.78},
      {"b":25,"k":0,"e":2.9},{"b":25,"k":0.25,"e":2.95},{"b":25,"k":0.5,"e":3.02},{"b":25,"k":0.75,"e":2.98},{"b":25,"k":1,"e":2.92},
      {"b":26,"k":0,"e":-0.97},{"b":26,"k":0.25,"e":-1.08},{"b":26,"k":0.5,"e":-1.18},{"b":26,"k":0.75,"e":-1.08},{"b":26,"k":1,"e":-0.78},
      {"b":27,"k":0,"e":-1.02},{"b":27,"k":0.25,"e":-1.12},{"b":27,"k":0.5,"e":-1.22},{"b":27,"k":0.75,"e":-1.12},{"b":27,"k":1,"e":-0.85},
      {"b":28,"k":0,"e":-1.22},{"b":28,"k":0.25,"e":-1.3},{"b":28,"k":0.5,"e":-1.42},{"b":28,"k":0.75,"e":-1.3},{"b":28,"k":1,"e":-0.92},
      {"b":29,"k":0,"e":-1.28},{"b":29,"k":0.25,"e":-1.35},{"b":29,"k":0.5,"e":-1.48},{"b":29,"k":0.75,"e":-1.36},{"b":29,"k":1,"e":-0.98},
      {"b":30,"k":0,"e":-1.38},{"b":30,"k":0.25,"e":-1.45},{"b":30,"k":0.5,"e":-1.58},{"b":30,"k":0.75,"e":-1.68},{"b":30,"k":1,"e":-1.72},
      {"b":31,"k":0,"e":-2.78},{"b":31,"k":0.25,"e":-2.22},{"b":31,"k":0.5,"e":-1.8},{"b":31,"k":0.75,"e":-1.45},{"b":31,"k":1,"e":-1.25},
      {"b":32,"k":0,"e":-2.72},{"b":32,"k":0.25,"e":-2.2},{"b":32,"k":0.5,"e":-1.78},{"b":32,"k":0.75,"e":-1.5},{"b":32,"k":1,"e":-1.35},
      {"b":33,"k":0,"e":-1.88},{"b":33,"k":0.25,"e":-1.9},{"b":33,"k":0.5,"e":-1.88},{"b":33,"k":0.75,"e":-1.8},{"b":33,"k":1,"e":-1.75},
      {"b":34,"k":0,"e":-1.95},{"b":34,"k":0.25,"e":-1.98},{"b":34,"k":0.5,"e":-1.95},{"b":34,"k":0.75,"e":-1.92},{"b":34,"k":1,"e":-1.9},
      {"b":35,"k":0,"e":-2.05},{"b":35,"k":0.25,"e":-2.05},{"b":35,"k":0.5,"e":-2.02},{"b":35,"k":0.75,"e":-2.0},{"b":35,"k":1,"e":-2.02},
      {"b":36,"k":0,"e":-2.22},{"b":36,"k":0.25,"e":-2.2},{"b":36,"k":0.5,"e":-2.15},{"b":36,"k":0.75,"e":-2.12},{"b":36,"k":1,"e":-2.15},
      {"b":37,"k":0,"e":-2.3},{"b":37,"k":0.25,"e":-2.32},{"b":37,"k":0.5,"e":-2.3},{"b":37,"k":0.75,"e":-2.25},{"b":37,"k":1,"e":-2.22},
      {"b":38,"k":0,"e":-2.38},{"b":38,"k":0.25,"e":-2.42},{"b":38,"k":0.5,"e":-2.42},{"b":38,"k":0.75,"e":-2.38},{"b":38,"k":1,"e":-2.32},
      {"b":39,"k":0,"e":-2.45},{"b":39,"k":0.25,"e":-2.5},{"b":39,"k":0.5,"e":-2.55},{"b":39,"k":0.75,"e":-2.5},{"b":39,"k":1,"e":-2.45},
      {"b":40,"k":0,"e":-2.52},{"b":40,"k":0.25,"e":-2.58},{"b":40,"k":0.5,"e":-2.65},{"b":40,"k":0.75,"e":-2.62},{"b":40,"k":1,"e":-2.55},
      {"b":41,"k":0,"e":-2.58},{"b":41,"k":0.25,"e":-2.65},{"b":41,"k":0.5,"e":-2.75},{"b":41,"k":0.75,"e":-2.78},{"b":41,"k":1,"e":-2.7},
      {"b":42,"k":0,"e":-2.65},{"b":42,"k":0.25,"e":-2.72},{"b":42,"k":0.5,"e":-2.85},{"b":42,"k":0.75,"e":-2.9},{"b":42,"k":1,"e":-2.85},
      {"b":43,"k":0,"e":-2.72},{"b":43,"k":0.25,"e":-2.8},{"b":43,"k":0.5,"e":-2.92},{"b":43,"k":0.75,"e":-3.0},{"b":43,"k":1,"e":-3.0},
      {"b":44,"k":0,"e":-2.8},{"b":44,"k":0.25,"e":-2.9},{"b":44,"k":0.5,"e":-3.02},{"b":44,"k":0.75,"e":-3.05},{"b":44,"k":1,"e":-3.05}
    ]
  },
  "vconcat": [
    {
      "spacing": 62,
      "bounds": "flush",
      "hconcat": [
        {"width": 141, "height": 265, "title": "tubo (6,6)", "layer": [
          {"data": {"name": "t6"}, "mark": {"type": "line", "interpolate": "monotone", "clip": true, "color": "#000", "strokeWidth": 1},
           "encoding": {"x": {"field": "k", "type": "quantitative", "scale": {"domain": [0, 1]}, "axis": {"values": [0, 1], "title": null, "labelExpr": "datum.value == 0 ? 'Γ' : 'Z'", "labelFont": {"condition": {"test": "datum.value == 0", "value": "Liberation Serif"}, "value": "Liberation Sans"}}},
                        "y": {"field": "e", "type": "quantitative", "scale": {"domain": [-3, 3], "nice": false}, "axis": {"values": [-3, -2, -1, 0, 1, 2, 3], "labelExpr": "'' + datum.value", "title": "Energia (eV)"}},
                        "detail": {"field": "b", "type": "nominal"}}},
          {"data": {"values": [{"e": 0}]}, "mark": {"type": "rule", "color": "#ff4d4d", "strokeDash": [5, 4], "strokeWidth": 1.4}, "encoding": {"y": {"field": "e", "type": "quantitative"}}},
          {"data": {"values": [{"k": 0.58, "e": 0.05}, {"k": 0.58, "e": -0.05}]}, "mark": {"type": "point", "shape": "diamond", "filled": true, "color": "#87cefa", "size": 16, "opacity": 1}, "encoding": {"x": {"field": "k", "type": "quantitative"}, "y": {"field": "e", "type": "quantitative"}}}
        ]},
        {"width": 141, "height": 265, "title": "tubo (7,7)", "layer": [
          {"data": {"name": "t7"}, "mark": {"type": "line", "interpolate": "monotone", "clip": true, "color": "#000", "strokeWidth": 1},
           "encoding": {"x": {"field": "k", "type": "quantitative", "scale": {"domain": [0, 1]}, "axis": {"values": [0, 1], "title": null, "labelExpr": "datum.value == 0 ? 'Γ' : 'Z'", "labelFont": {"condition": {"test": "datum.value == 0", "value": "Liberation Serif"}, "value": "Liberation Sans"}}},
                        "y": {"field": "e", "type": "quantitative", "scale": {"domain": [-3, 3], "nice": false}, "axis": {"values": [-3, -2, -1, 0, 1, 2, 3], "labelExpr": "'' + datum.value", "title": "Energia (eV)"}},
                        "detail": {"field": "b", "type": "nominal"}}},
          {"data": {"values": [{"e": 0}]}, "mark": {"type": "rule", "color": "#ff4d4d", "strokeDash": [5, 4], "strokeWidth": 1.4}, "encoding": {"y": {"field": "e", "type": "quantitative"}}},
          {"data": {"values": [{"k": 0.61, "e": 0.05}, {"k": 0.61, "e": -0.05}]}, "mark": {"type": "point", "shape": "diamond", "filled": true, "color": "#87cefa", "size": 16, "opacity": 1}, "encoding": {"x": {"field": "k", "type": "quantitative"}, "y": {"field": "e", "type": "quantitative"}}}
        ]},
        {"width": 141, "height": 265, "title": "tubo (8,8)", "layer": [
          {"data": {"name": "t8"}, "mark": {"type": "line", "interpolate": "monotone", "clip": true, "color": "#000", "strokeWidth": 1},
           "encoding": {"x": {"field": "k", "type": "quantitative", "scale": {"domain": [0, 1]}, "axis": {"values": [0, 1], "title": null, "labelExpr": "datum.value == 0 ? 'Γ' : 'Z'", "labelFont": {"condition": {"test": "datum.value == 0", "value": "Liberation Serif"}, "value": "Liberation Sans"}}},
                        "y": {"field": "e", "type": "quantitative", "scale": {"domain": [-3, 3], "nice": false}, "axis": {"values": [-3, -2, -1, 0, 1, 2, 3], "labelExpr": "'' + datum.value", "title": "Energia (eV)"}},
                        "detail": {"field": "b", "type": "nominal"}}},
          {"data": {"values": [{"e": 0}]}, "mark": {"type": "rule", "color": "#ff4d4d", "strokeDash": [5, 4], "strokeWidth": 1.4}, "encoding": {"y": {"field": "e", "type": "quantitative"}}},
          {"data": {"values": [{"k": 0.63, "e": 0.05}, {"k": 0.63, "e": -0.05}]}, "mark": {"type": "point", "shape": "diamond", "filled": true, "color": "#87cefa", "size": 16, "opacity": 1}, "encoding": {"x": {"field": "k", "type": "quantitative"}, "y": {"field": "e", "type": "quantitative"}}}
        ]},
        {"width": 144, "height": 265, "title": "tubo (9,9)", "layer": [
          {"data": {"name": "t9"}, "mark": {"type": "line", "interpolate": "monotone", "clip": true, "color": "#000", "strokeWidth": 1},
           "encoding": {"x": {"field": "k", "type": "quantitative", "scale": {"domain": [0, 1]}, "axis": {"values": [0, 1], "title": null, "labelExpr": "datum.value == 0 ? 'Γ' : 'Z'", "labelFont": {"condition": {"test": "datum.value == 0", "value": "Liberation Serif"}, "value": "Liberation Sans"}}},
                        "y": {"field": "e", "type": "quantitative", "scale": {"domain": [-3, 3], "nice": false}, "axis": {"values": [-3, -2, -1, 0, 1, 2, 3], "labelExpr": "'' + datum.value", "title": "Energia (eV)"}},
                        "detail": {"field": "b", "type": "nominal"}}},
          {"data": {"values": [{"e": 0}]}, "mark": {"type": "rule", "color": "#ff4d4d", "strokeDash": [5, 4], "strokeWidth": 1.4}, "encoding": {"y": {"field": "e", "type": "quantitative"}}},
          {"data": {"values": [{"k": 0.64, "e": 0.05}, {"k": 0.64, "e": -0.05}]}, "mark": {"type": "point", "shape": "diamond", "filled": true, "color": "#87cefa", "size": 16, "opacity": 1}, "encoding": {"x": {"field": "k", "type": "quantitative"}, "y": {"field": "e", "type": "quantitative"}}}
        ]}
      ]
    },
    {
      "spacing": 75,
      "bounds": "flush",
      "hconcat": [
        {"width": 141, "height": 264, "title": "tubo (10,10)", "layer": [
          {"data": {"name": "t10"}, "mark": {"type": "line", "interpolate": "monotone", "clip": true, "color": "#000", "strokeWidth": 1},
           "encoding": {"x": {"field": "k", "type": "quantitative", "scale": {"domain": [0, 1]}, "axis": {"values": [0, 1], "title": null, "labelExpr": "datum.value == 0 ? 'Γ' : 'Z'", "labelFont": {"condition": {"test": "datum.value == 0", "value": "Liberation Serif"}, "value": "Liberation Sans"}}},
                        "y": {"field": "e", "type": "quantitative", "scale": {"domain": [-3, 3], "nice": false}, "axis": {"values": [-3, -2, -1, 0, 1, 2, 3], "labelExpr": "'' + datum.value", "title": "Energia (eV)"}},
                        "detail": {"field": "b", "type": "nominal"}}},
          {"data": {"values": [{"e": 0}]}, "mark": {"type": "rule", "color": "#ff4d4d", "strokeDash": [5, 4], "strokeWidth": 1.4}, "encoding": {"y": {"field": "e", "type": "quantitative"}}},
          {"data": {"values": [{"k": 0.64, "e": 0.05}, {"k": 0.64, "e": -0.05}]}, "mark": {"type": "point", "shape": "diamond", "filled": true, "color": "#87cefa", "size": 16, "opacity": 1}, "encoding": {"x": {"field": "k", "type": "quantitative"}, "y": {"field": "e", "type": "quantitative"}}}
        ]},
        {"width": 141, "height": 264, "title": "tubo (11,11)", "layer": [
          {"data": {"name": "t11"}, "mark": {"type": "line", "interpolate": "monotone", "clip": true, "color": "#000", "strokeWidth": 1},
           "encoding": {"x": {"field": "k", "type": "quantitative", "scale": {"domain": [0, 1]}, "axis": {"values": [0, 1], "title": null, "labelExpr": "datum.value == 0 ? 'Γ' : 'Z'", "labelFont": {"condition": {"test": "datum.value == 0", "value": "Liberation Serif"}, "value": "Liberation Sans"}}},
                        "y": {"field": "e", "type": "quantitative", "scale": {"domain": [-3, 3], "nice": false}, "axis": {"values": [-3, -2, -1, 0, 1, 2, 3], "labelExpr": "'' + datum.value", "title": "Energia (eV)"}},
                        "detail": {"field": "b", "type": "nominal"}}},
          {"data": {"values": [{"e": 0}]}, "mark": {"type": "rule", "color": "#ff4d4d", "strokeDash": [5, 4], "strokeWidth": 1.4}, "encoding": {"y": {"field": "e", "type": "quantitative"}}},
          {"data": {"values": [{"k": 0.63, "e": 0.05}, {"k": 0.63, "e": -0.05}]}, "mark": {"type": "point", "shape": "diamond", "filled": true, "color": "#87cefa", "size": 16, "opacity": 1}, "encoding": {"x": {"field": "k", "type": "quantitative"}, "y": {"field": "e", "type": "quantitative"}}}
        ]},
        {"width": 141, "height": 264, "title": "tubo (12,12)", "layer": [
          {"data": {"name": "t12"}, "mark": {"type": "line", "interpolate": "monotone", "clip": true, "color": "#000", "strokeWidth": 1},
           "encoding": {"x": {"field": "k", "type": "quantitative", "scale": {"domain": [0, 1]}, "axis": {"values": [0, 1], "title": null, "labelExpr": "datum.value == 0 ? 'Γ' : 'Z'", "labelFont": {"condition": {"test": "datum.value == 0", "value": "Liberation Serif"}, "value": "Liberation Sans"}}},
                        "y": {"field": "e", "type": "quantitative", "scale": {"domain": [-3, 3], "nice": false}, "axis": {"values": [-3, -2, -1, 0, 1, 2, 3], "labelExpr": "'' + datum.value", "title": "Energia (eV)"}},
                        "detail": {"field": "b", "type": "nominal"}}},
          {"data": {"values": [{"e": 0}]}, "mark": {"type": "rule", "color": "#ff4d4d", "strokeDash": [5, 4], "strokeWidth": 1.4}, "encoding": {"y": {"field": "e", "type": "quantitative"}}},
          {"data": {"values": [{"k": 0.65, "e": 0.05}, {"k": 0.65, "e": -0.05}]}, "mark": {"type": "point", "shape": "diamond", "filled": true, "color": "#87cefa", "size": 16, "opacity": 1}, "encoding": {"x": {"field": "k", "type": "quantitative"}, "y": {"field": "e", "type": "quantitative"}}}
        ]}
      ]
    }
  ],
  "spacing": 40,
  "bounds": "full",
  "center": true
}
